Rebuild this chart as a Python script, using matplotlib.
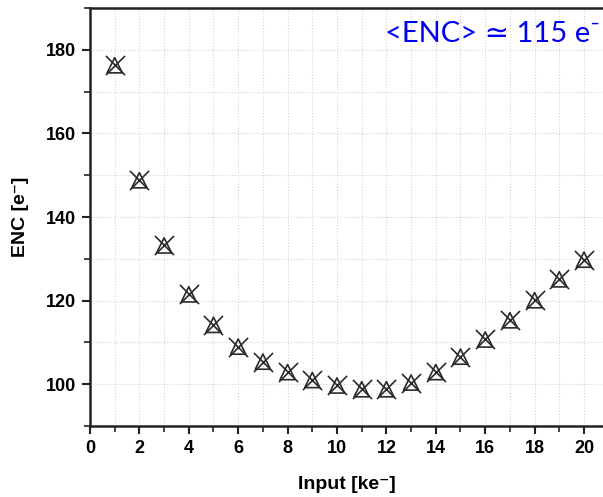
import numpy as np
import matplotlib.pyplot as plt
from matplotlib.ticker import MultipleLocator

# Данные: входной заряд и шумовой заряд ENC
input_ke = [1, 2, 3, 4, 5, 6, 7, 8, 9, 10, 11, 12, 13, 14, 15, 16, 17, 18, 19, 20]
enc_e = [176.3, 148.8, 133.2, 121.5, 114.2, 109.0, 105.4, 102.9, 101.0, 99.7,
         98.8, 98.8, 100.4, 102.9, 106.6, 110.7, 115.3, 120.1, 125.1, 129.8]
annot_text = '<ENC> \u2243 115 e\u207b'

bold_fam = ['Liberation Sans', 'DejaVu Sans']

fig = plt.figure(figsize=(6.03, 4.97), dpi=100)
ax = fig.add_axes([90 / 603, 1 - 426 / 497, 1 - 90 / 603, (426 - 8) / 497])

# Треугольник + крест в каждой точке
ax.scatter(input_ke, enc_e, marker='^', s=120, facecolors='none',
           edgecolors='#2a2a2a', linewidths=1.2, zorder=3)
ax.scatter(input_ke, enc_e, marker='x', s=190, color='#2a2a2a',
           linewidths=1.2, zorder=3)

ax.set_xlim(0, 20.77)
ax.set_ylim(90, 190)
ax.xaxis.set_major_locator(MultipleLocator(2))
ax.xaxis.set_minor_locator(MultipleLocator(1))
ax.yaxis.set_major_locator(MultipleLocator(20))
ax.yaxis.set_minor_locator(MultipleLocator(10))

ax.grid(True, which='both', linestyle=':', color='#d4d4d4', linewidth=0.8)
ax.set_axisbelow(True)

ax.spines['right'].set_visible(False)
for s in ['left', 'bottom', 'top']:
    ax.spines[s].set_linewidth(1.8)
    ax.spines[s].set_color('#222222')

ax.tick_params(which='major', direction='out', length=6, width=1.5, color='#222222')
ax.tick_params(which='minor', direction='out', length=4, width=1.2, color='#222222')
ax.tick_params(axis='both', labelsize=13, pad=4)
for lab in ax.get_xticklabels() + ax.get_yticklabels():
    lab.set_fontweight('bold')
    lab.set_family(bold_fam)

ax.set_xlabel('Input [ke\u207b]', fontsize=14, fontweight='bold', family=bold_fam, labelpad=14)
ax.set_ylabel('ENC [e\u207b]', fontsize=14, fontweight='bold', family=bold_fam, labelpad=12)

ax.text(0.995, 0.97, annot_text, transform=ax.transAxes, color='#0000ee',
        fontsize=21, family=['Lato', 'DejaVu Sans'], ha='right', va='top')

fig.savefig('out.png', dpi=100)
